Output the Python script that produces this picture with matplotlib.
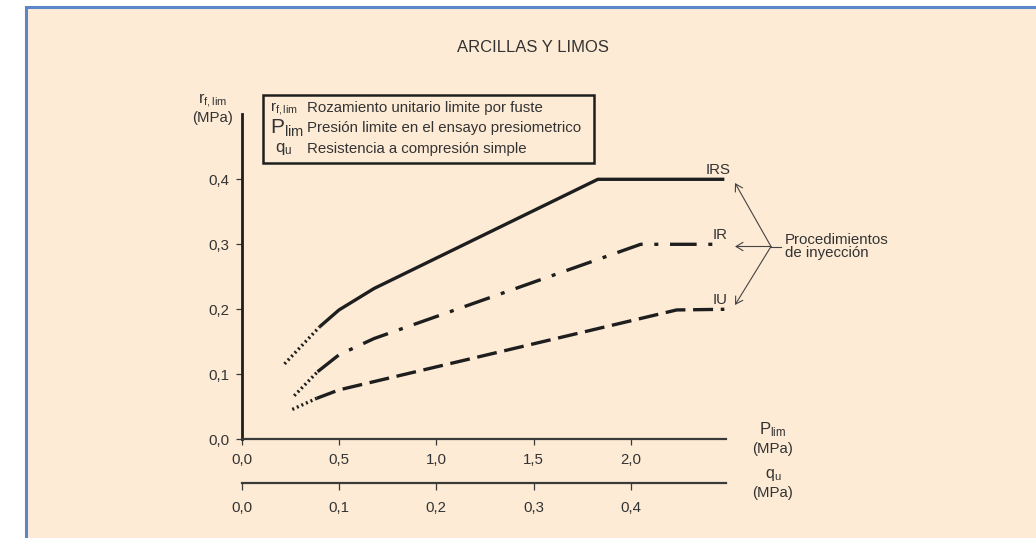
import numpy as np
import matplotlib.pyplot as plt
from matplotlib.patches import Rectangle, FancyArrowPatch

plt.rcParams['font.family'] = ['Liberation Sans', 'DejaVu Sans']
plt.rcParams['mathtext.fontset'] = 'custom'
plt.rcParams['mathtext.rm'] = 'Liberation Sans'
plt.rcParams['mathtext.it'] = 'Liberation Sans'

# data (P_lim in MPa, r_f,lim in MPa)
irs_dot_p = [0.22, 0.40]
irs_dot_r = [0.116, 0.173]
irs_p = [0.40, 0.50, 0.68, 1.83, 2.48]
irs_r = [0.173, 0.199, 0.232, 0.400, 0.400]

ir_dot_p = [0.27, 0.39]
ir_dot_r = [0.067, 0.104]
ir_p = [0.39, 0.50, 0.68, 2.05, 2.45]
ir_r = [0.104, 0.130, 0.155, 0.300, 0.300]

iu_dot_p = [0.26, 0.385]
iu_dot_r = [0.046, 0.063]
iu_p = [0.385, 0.50, 2.235, 2.48]
iu_r = [0.063, 0.076, 0.199, 0.200]

p_ticks = [0.0, 0.5, 1.0, 1.5, 2.0]
r_ticks = [0.0, 0.1, 0.2, 0.3, 0.4]
q_ticks = [0.0, 0.1, 0.2, 0.3, 0.4]

txt = '#333333'
ink = '#1e1e1e'
W, H = 1036, 538
fs = 10.8

fig = plt.figure(figsize=(W / 100, H / 100), dpi=100, facecolor='white')


def fx(px):
    return px / W


def fy(py):
    return 1 - py / H


# background panel
fig.patches.append(Rectangle((26 / W, -0.05), 1.0, 1 - 7 / H + 0.05, transform=fig.transFigure,
                             facecolor='#fdebd5', edgecolor='#5b86c8', linewidth=2.2, zorder=-10))

ax = fig.add_axes([241.7 / W, 98.7 / H, 484.6 / W, 325 / H])
ax.patch.set_alpha(0)
ax.set_xlim(0, 2.49)
ax.set_ylim(0, 0.5)
for s in ['top', 'right']:
    ax.spines[s].set_visible(False)
ax.spines['left'].set_linewidth(2.0)
ax.spines['bottom'].set_linewidth(1.6)
ax.spines['left'].set_color(ink)
ax.spines['bottom'].set_color('#3a3a3a')
ax.set_xticks(p_ticks)
ax.set_xticklabels([f'{v:.1f}'.replace('.', ',') for v in p_ticks])
ax.set_yticks(r_ticks)
ax.set_yticklabels([f'{v:.1f}'.replace('.', ',') for v in r_ticks])
ax.tick_params(colors='#3a3a3a', labelcolor=txt, labelsize=fs, length=4, width=0.9)
ax.tick_params(axis='x', pad=6)
ax.tick_params(axis='y', pad=5)

lw = 2.4
dot = (0, (0.6, 0.9))
ax.plot(irs_dot_p, irs_dot_r, color=ink, lw=lw, ls=dot)
ax.plot(irs_p, irs_r, color=ink, lw=lw, solid_capstyle='butt')
ax.plot(ir_dot_p, ir_dot_r, color=ink, lw=lw, ls=dot)
ax.plot(ir_p, ir_r, color=ink, lw=lw, ls=(0, (8, 3.5, 1.2, 3.5)))
ax.plot(iu_dot_p, iu_dot_r, color=ink, lw=lw, ls=dot)
ax.plot(iu_p, iu_r, color=ink, lw=lw, ls=(0, (6, 2.3)))

# curve labels
ax.text(2.45, 0.403, 'IRS', ha='center', va='bottom', fontsize=fs, color=txt)
ax.text(2.46, 0.303, 'IR', ha='center', va='bottom', fontsize=fs, color=txt)
ax.text(2.46, 0.203, 'IU', ha='center', va='bottom', fontsize=fs, color=txt)

# arrows to the three curves
src = (fx(771), fy(246.5))
for tgt in [(735, 183), (735, 246.5), (735, 305)]:
    fig.patches.append(FancyArrowPatch(
        src, (fx(tgt[0]), fy(tgt[1])), transform=fig.transFigure,
        arrowstyle='->,head_length=5,head_width=3', color='#444444', lw=0.8,
        shrinkA=0, shrinkB=0))
fig.add_artist(plt.Line2D([fx(771), fx(781)], [fy(246.5), fy(246.5)],
                          transform=fig.transFigure, color='#444444', lw=0.8))
fig.text(fx(785), fy(246.5), 'Procedimientos\nde inyección', ha='left', va='center',
         fontsize=fs, color=txt, linespacing=1.0)

# title
fig.text(fx(533), fy(47), 'ARCILLAS Y LIMOS', ha='center', va='center', fontsize=12, color=txt)

# axis labels
fig.text(fx(213), fy(101), r'$\mathregular{r_{f,lim}}$', ha='center', va='center', fontsize=11.5, color=txt)
fig.text(fx(213), fy(118), '(MPa)', ha='center', va='center', fontsize=fs, color=txt)
fig.text(fx(773), fy(430), r'$\mathregular{P_{lim}}$', ha='center', va='center', fontsize=12, color=txt)
fig.text(fx(773), fy(449), '(MPa)', ha='center', va='center', fontsize=fs, color=txt)
fig.text(fx(773), fy(475), r'$\mathregular{q_u}$', ha='center', va='center', fontsize=11.5, color=txt)
fig.text(fx(773), fy(493), '(MPa)', ha='center', va='center', fontsize=fs, color=txt)

# legend box
box_x0, box_y0, box_x1, box_y1 = 263, 95, 594, 163
fig.patches.append(Rectangle((fx(box_x0), fy(box_y1)), (box_x1 - box_x0) / W, (box_y1 - box_y0) / H,
                             transform=fig.transFigure, facecolor='none', edgecolor=ink, lw=1.8))
leg_sym = [r'$\mathregular{r_{f,lim}}$', r'$\mathregular{P_{lim}}$', r'$\mathregular{q_u}$']
leg_sym_size = [11, 15, 12]
leg_text = ['Rozamiento unitario limite por fuste',
            'Presión limite en el ensayo presiometrico',
            'Resistencia a compresión simple']
leg_y = [108, 128, 149]
leg_sx = [270, 270, 275]
for sym, ss, sx, t, yy in zip(leg_sym, leg_sym_size, leg_sx, leg_text, leg_y):
    fig.text(fx(sx), fy(yy), sym, ha='left', va='center', fontsize=ss, color=txt)
    fig.text(fx(307), fy(yy), t, ha='left', va='center', fontsize=fs, color=txt)

# second scale (q_u)
ax2 = fig.add_axes([241.7 / W, (H - 483) / H, 484.6 / W, 0.0001])
ax2.patch.set_alpha(0)
ax2.set_xlim(0, 2.49 / 5)
for s in ['top', 'right', 'left']:
    ax2.spines[s].set_visible(False)
ax2.spines['bottom'].set_linewidth(1.6)
ax2.spines['bottom'].set_color('#3a3a3a')
ax2.set_yticks([])
ax2.set_xticks(q_ticks)
ax2.set_xticklabels([f'{v:.1f}'.replace('.', ',') for v in q_ticks])
ax2.tick_params(colors='#3a3a3a', labelcolor=txt, labelsize=fs, length=5, width=0.9, pad=8)

fig.savefig('out.png', dpi=100, facecolor='white')
